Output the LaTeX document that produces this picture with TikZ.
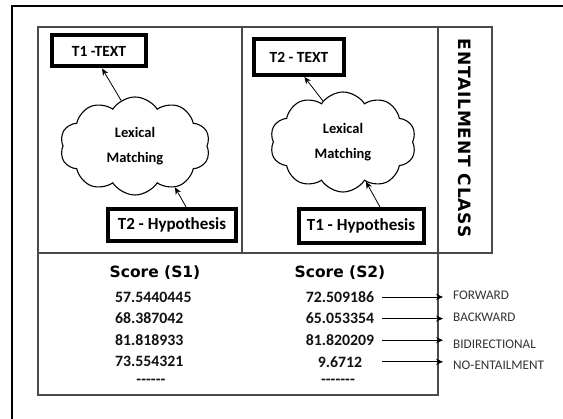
\documentclass[tikz,border=0pt]{standalone}
\usepackage{fontspec}
\setmainfont{Carlito}
\newfontfamily\headfont{DejaVu Sans}
\newfontfamily\classfont[LetterSpace=5]{DejaVu Sans}
\usetikzlibrary{arrows.meta,shapes.symbols,positioning}
\definecolor{panelgray}{HTML}{4A4A4A}
\definecolor{ink}{HTML}{111111}
\definecolor{labelgray}{HTML}{333333}

\begin{document}
\begin{tikzpicture}[x=1pt,y=-1pt,
  textbox/.style={draw=black,line width=4pt,fill=white,inner sep=0pt,
    font=\bfseries\fontsize{15.5}{17}\selectfont},
  hypfont/.style={font=\bfseries\fontsize{17}{19}\selectfont},
  lexcloud/.style={cloud,cloud puffs=10,cloud puff arc=115,cloud ignores aspect,
    draw=black,line width=1.1pt,align=center,
    font=\bfseries\fontsize{14.5}{25}\selectfont},
  arr/.style={-{Stealth[length=7pt,width=6pt]},line width=0.8pt},
  panel/.style={draw=panelgray,line width=1.1pt},
  head/.style={font=\headfont\bfseries\fontsize{15.5}{18}\selectfont},
  num/.style={font=\bfseries\fontsize{15.8}{18}\selectfont,text=ink,inner sep=0pt},
  cls/.style={font=\fontsize{13.2}{15}\selectfont,text=labelgray,anchor=west,inner sep=0pt}]

\useasboundingbox (0,0) rectangle (563,419);

% outer frame
\draw[line width=2pt] (12,419) -- (12,6) -- (563,6);

% panels
\draw[panel] (38,27) rectangle (438,253);
\draw[panel] (242,27) -- (242,253);
\draw[panel] (438,27) rectangle (492,253);
\draw[panel] (38,253) rectangle (438,395);
\node[font=\classfont\bfseries\fontsize{17}{20}\selectfont,rotate=-90] (ec) at (465,138) {ENTAILMENT CLASS};

% left panel
\node[textbox,minimum width=94pt,minimum height=31pt] (t1) at (99,51) {T1 -TEXT};
\node[lexcloud,minimum width=150pt,minimum height=98pt] (c1) at (135,146) {Lexical\\Matching};
\node[textbox,hypfont,minimum width=128pt,minimum height=32pt] (h1) at (172,225) {T2 - Hypothesis};
\draw[arr] (c1.107) -- (t1.280);
\draw[arr] (h1.52) -- (c1.-46);

% right panel
\node[textbox,minimum width=90pt,minimum height=36pt] (t2) at (299,57) {T2 - TEXT};
\node[lexcloud,minimum width=146pt,minimum height=100pt] (c2) at (343,142) {Lexical\\Matching};
\node[textbox,hypfont,minimum width=125pt,minimum height=34pt] (h2) at (361,226) {T1 - Hypothesis};
\draw[arr] (c2.116) -- (t2.285);
\draw[arr] (h2.45) -- (c2.-60);

% scores
\node[head] (sc1) at (155,273) {Score (S1)};
\node[head] (sc2) at (340,273) {Score (S2)};

\foreach \v [count=\i] in {57.5440445,68.387042,81.818933,73.554321}{
  \node[num,anchor=west] (s1\i) at (115,275.4+21.6*\i) {\v};
}
\node[num] (s1d) at (151,382) {-{}-{}-{}-{}-{}-};

\coordinate (tl) at (382,0);
\foreach \v/\lbl/\dy [count=\i] in {72.509186/FORWARD/-2,65.053354/BACKWARD/-1,
    81.820209/BIDIRECTIONAL/4,9.6712/NO-ENTAILMENT/3}{
  \node[num] (s2\i) at (340,275.4+21.6*\i) {\v};
  \node[cls] (cl\i) at (453,275.4+21.6*\i+\dy) {\lbl};
  \draw[arr] (tl |- s2\i) -- ([xshift=-10pt]cl\i.west |- s2\i);
}
\node[num] (s2d) at (338,382) {-{}-{}-{}-{}-{}-{}-};

\end{tikzpicture}
\end{document}
